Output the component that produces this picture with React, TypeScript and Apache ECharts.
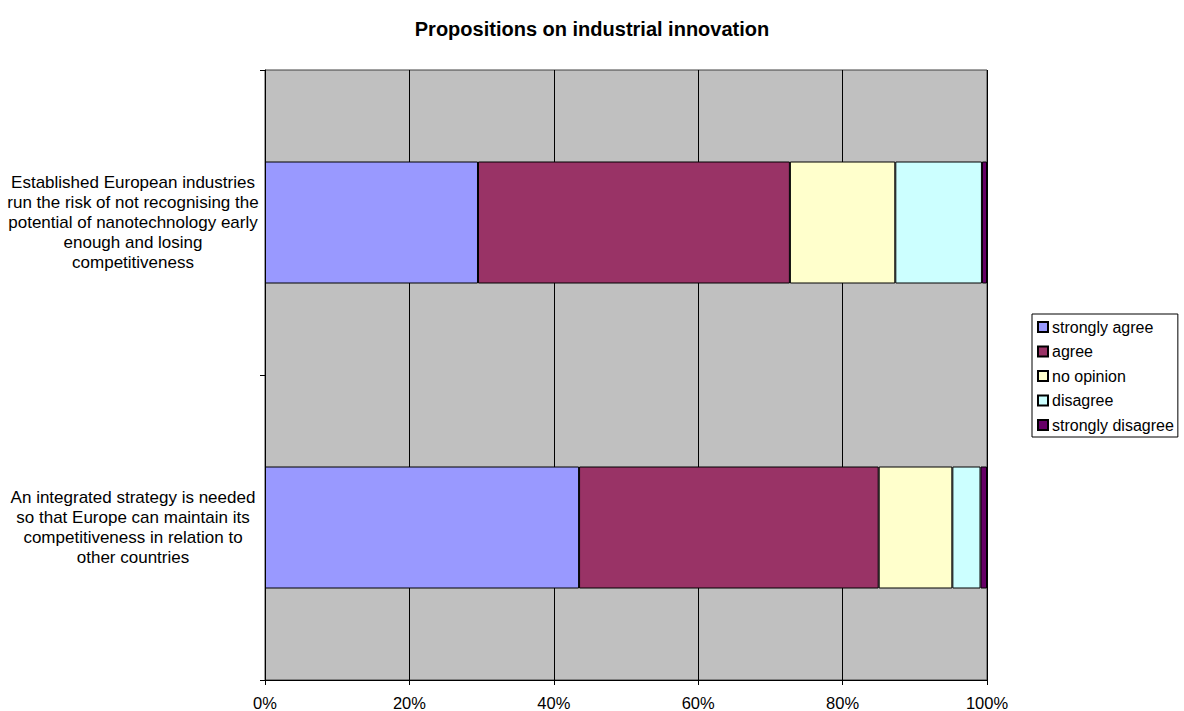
import React, { useEffect, useRef } from "react";
import * as echarts from "echarts";

const categories = [
  "An integrated strategy is needed\nso that Europe can maintain its\ncompetitiveness in relation to\nother countries",
  "Established European industries\nrun the risk of not recognising the\npotential of nanotechnology early\nenough and losing\ncompetitiveness",
];
const seriesNames = ["strongly agree", "agree", "no opinion", "disagree", "strongly disagree"];
const stronglyAgree = [43.5, 29.5];
const agree = [41.5, 43.2];
const noOpinion = [10.2, 14.6];
const disagree = [3.9, 12.0];
const stronglyDisagree = [0.9, 0.7];
const colors = ["#9999FF", "#993366", "#FFFFCC", "#CCFFFF", "#660066"];

const FONT = "'Liberation Sans', Arial, sans-serif";

export default function App() {
  const ref = useRef<HTMLDivElement>(null);
  useEffect(() => {
    document.body.style.margin = "0";
    const chart = echarts.init(ref.current!, undefined, { renderer: "svg" });
    const values = [stronglyAgree, agree, noOpinion, disagree, stronglyDisagree];
    chart.setOption({
      animation: false,
      backgroundColor: "#ffffff",
      textStyle: { fontFamily: FONT },
      title: {
        text: "Propositions on industrial innovation",
        left: "center",
        top: 14,
        textStyle: { fontFamily: FONT, fontSize: 20, fontWeight: "bold", color: "#000", lineHeight: 20 },
      },
      legend: {
        orient: "vertical",
        left: 1032,
        top: 314,
        padding: [4, 4, 3, 5],
        itemGap: 6.5,
        itemWidth: 10,
        itemHeight: 10,
        icon: "rect",
        borderColor: "#000",
        borderWidth: 1,
        borderRadius: 0,
        backgroundColor: "#fff",
        textStyle: { fontFamily: FONT, fontSize: 16, color: "#000", lineHeight: 18, padding: [0, 0, 0, -1] },
        data: seriesNames,
      },
      grid: {
        left: 265,
        right: 197,
        top: 70,
        bottom: 31,
        show: true,
        backgroundColor: "#C0C0C0",
        borderColor: "#404040",
        borderWidth: 1,
        containLabel: false,
      },
      xAxis: {
        type: "value",
        min: 0,
        max: 100,
        interval: 20,
        axisLine: { show: true, lineStyle: { color: "#000", width: 1 } },
        axisTick: { show: true, length: 5, lineStyle: { color: "#000" } },
        splitLine: { show: true, lineStyle: { color: "#000", width: 1 } },
        axisLabel: {
          formatter: "{value}%",
          margin: 14,
          color: "#000",
          fontFamily: FONT,
          fontSize: 16.5,
        },
      },
      yAxis: {
        type: "category",
        data: categories,
        axisLine: { show: true, lineStyle: { color: "#000", width: 1 } },
        axisTick: { show: true, length: 5, lineStyle: { color: "#000" } },
        splitLine: { show: false },
        axisLabel: {
          margin: 132,
          align: "center",
          color: "#000",
          fontFamily: FONT,
          fontSize: 17,
          lineHeight: 20,
        },
      },
      series: seriesNames.map((name, i) => ({
        name,
        type: "bar",
        stack: "total",
        barCategoryGap: "60%",
        data: values[i],
        itemStyle: { color: colors[i], borderColor: "#000", borderWidth: 1 },
        emphasis: { disabled: true },
      })),
    });
    return () => chart.dispose();
  }, []);
  return <div ref={ref} style={{ width: 1184, height: 711 }} />;
}
